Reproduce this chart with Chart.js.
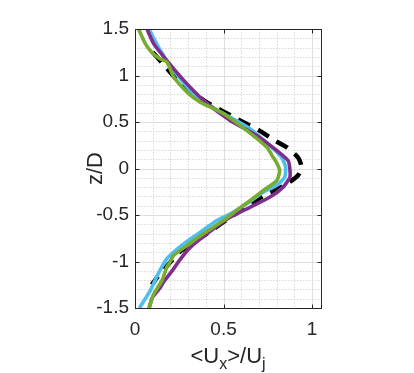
<!DOCTYPE html>
<html>
<head>
<meta charset="utf-8">
<script src="https://cdn.jsdelivr.net/npm/chart.js@4.4.1/dist/chart.umd.min.js"></script>
<style>
  html, body { margin: 0; padding: 0; background: #fff; }
  #wrap { width: 414px; height: 373px; position: relative; }
</style>
</head>
<body>
<div id="wrap"><canvas id="c" width="414" height="373"></canvas></div>
<script>
// ---- data ----
const xTicks = [0, 0.5, 1];
const yTicks = [-1.5, -1, -0.5, 0, 0.5, 1, 1.5];
const xLabelMain = ['<U', 'x', '>/U', 'j'];
const yLabel = 'z/D';

const greenX  = [0.02, 0.059, 0.094, 0.14, 0.18, 0.22, 0.30, 0.368, 0.50, 0.63, 0.743, 0.78, 0.80, 0.817, 0.80, 0.724, 0.649, 0.574, 0.499, 0.387, 0.293, 0.215, 0.20, 0.18, 0.153, 0.106, 0.078];
const greenY  = [1.5, 1.34, 1.25, 1.18, 1.145, 0.98, 0.81, 0.714, 0.589, 0.41, 0.23, 0.12, 0.06, -0.02, -0.13, -0.237, -0.345, -0.45, -0.56, -0.70, -0.83, -0.94, -1.0, -1.06, -1.2, -1.35, -1.5];

const purpleX = [0.068, 0.106, 0.18, 0.274, 0.387, 0.537, 0.687, 0.80, 0.864, 0.874, 0.874, 0.836, 0.76, 0.649, 0.537, 0.43, 0.312, 0.25, 0.21, 0.165, 0.143, 0.097, 0.08];
const purpleY = [1.5, 1.34, 1.16, 0.95, 0.733, 0.517, 0.356, 0.194, 0.086, 0.0, -0.094, -0.2, -0.31, -0.417, -0.525, -0.668, -0.848, -0.99, -1.1, -1.21, -1.28, -1.39, -1.5];

const cyanX   = [0.078, 0.143, 0.218, 0.312, 0.387, 0.5, 0.649, 0.76, 0.827, 0.85, 0.845, 0.80, 0.724, 0.63, 0.537, 0.462, 0.368, 0.274, 0.18, 0.13, 0.087, 0.068, 0.025];
const cyanY   = [1.5, 1.27, 1.056, 0.84, 0.714, 0.59, 0.428, 0.248, 0.122, 0.014, -0.094, -0.18, -0.255, -0.38, -0.49, -0.56, -0.686, -0.81, -0.97, -1.135, -1.31, -1.37, -1.5];

const dashX   = [0.10, 0.17, 0.24, 0.39, 0.58, 0.70, 0.79, 0.855, 0.92, 0.94, 0.92, 0.845, 0.72, 0.565, 0.39, 0.25, 0.18, 0.125, 0.095];
const dashY   = [1.25, 1.1, 0.95, 0.73, 0.53, 0.41, 0.3, 0.23, 0.12, 0.02, -0.075, -0.18, -0.3, -0.49, -0.72, -0.9, -1.05, -1.17, -1.25];

function pts(xs, ys) { return xs.map((x, i) => ({ x: x, y: ys[i] })); }

const FONT = '"Liberation Sans", Arial, Helvetica, sans-serif';
const TICK_SIZE = 19;
const LABEL_SIZE = 22;

const framePlugin = {
  id: 'frame',
  beforeDatasetsDraw(chart) {
    const { ctx, chartArea: a, scales: { x, y } } = chart;
    ctx.save();
    ctx.lineWidth = 1;
    // minor grid (dotted)
    ctx.strokeStyle = '#d9d9d9';
    ctx.setLineDash([1.5, 1.5]);
    for (let k = 1; k < 11; k++) {
      const v = k / 10;
      if (Math.abs(v * 2 - Math.round(v * 2)) < 1e-6) continue;
      const px = Math.round(x.getPixelForValue(v)) + 0.5;
      ctx.beginPath(); ctx.moveTo(px, a.top); ctx.lineTo(px, a.bottom); ctx.stroke();
    }
    for (let k = -15; k <= 15; k++) {
      const v = k / 10;
      if (k % 5 === 0) continue;
      const py = Math.round(y.getPixelForValue(v)) + 0.5;
      ctx.beginPath(); ctx.moveTo(a.left, py); ctx.lineTo(a.right, py); ctx.stroke();
    }
    // major grid (solid)
    ctx.setLineDash([]);
    ctx.strokeStyle = '#dedede';
    xTicks.forEach(v => {
      const px = Math.round(x.getPixelForValue(v)) + 0.5;
      ctx.beginPath(); ctx.moveTo(px, a.top); ctx.lineTo(px, a.bottom); ctx.stroke();
    });
    yTicks.forEach(v => {
      const py = Math.round(y.getPixelForValue(v)) + 0.5;
      ctx.beginPath(); ctx.moveTo(a.left, py); ctx.lineTo(a.right, py); ctx.stroke();
    });
    ctx.restore();
  },
  afterDatasetsDraw(chart) {
    const { ctx, chartArea: a, scales: { x, y } } = chart;
    ctx.save();
    ctx.strokeStyle = '#262626';
    ctx.lineWidth = 1;
    const L = Math.round(a.left) + 0.5, R = Math.round(a.right) + 0.5;
    const T = Math.round(a.top) + 0.5, B = Math.round(a.bottom) + 0.5;
    ctx.strokeRect(L, T, R - L, B - T);
    const tl = 4;
    xTicks.forEach(v => {
      const px = Math.round(x.getPixelForValue(v)) + 0.5;
      ctx.beginPath();
      ctx.moveTo(px, B); ctx.lineTo(px, B - tl);
      ctx.moveTo(px, T); ctx.lineTo(px, T + tl);
      ctx.stroke();
    });
    yTicks.forEach(v => {
      const py = Math.round(y.getPixelForValue(v)) + 0.5;
      ctx.beginPath();
      ctx.moveTo(L, py); ctx.lineTo(L + tl, py);
      ctx.moveTo(R, py); ctx.lineTo(R - tl, py);
      ctx.stroke();
    });
    ctx.restore();
  },
  afterDraw(chart) {
    const { ctx, chartArea: a } = chart;
    ctx.save();
    ctx.fillStyle = '#262626';
    // x label with subscripts
    const big = LABEL_SIZE + 'px ' + FONT;
    const small = Math.round(LABEL_SIZE * 0.72) + 'px ' + FONT;
    const parts = [
      { t: xLabelMain[0], f: big, dy: 0 },
      { t: xLabelMain[1], f: small, dy: 6 },
      { t: xLabelMain[2], f: big, dy: 0 },
      { t: xLabelMain[3], f: small, dy: 6 }
    ];
    let w = 0;
    parts.forEach(p => { ctx.font = p.f; p.w = ctx.measureText(p.t).width; w += p.w; });
    let cx = (a.left + a.right) / 2 - w / 2;
    const base = 363;
    ctx.textBaseline = 'alphabetic';
    ctx.textAlign = 'left';
    parts.forEach(p => { ctx.font = p.f; ctx.fillText(p.t, cx, base + p.dy); cx += p.w; });
    // y label rotated
    ctx.translate(102, (a.top + a.bottom) / 2);
    ctx.rotate(-Math.PI / 2);
    ctx.font = big;
    ctx.textAlign = 'center';
    ctx.textBaseline = 'alphabetic';
    ctx.fillText(yLabel, 0, 0);
    ctx.restore();
  }
};

const lineDs = (label, xs, ys, color, width, dash) => ({
  label: label,
  data: pts(xs, ys),
  showLine: true,
  borderColor: color,
  backgroundColor: color,
  borderWidth: width,
  borderDash: dash || [],
  pointRadius: 0,
  tension: 0.2,
  fill: false,
  borderCapStyle: 'butt',
  borderJoinStyle: 'round'
});

new Chart(document.getElementById('c'), {
  type: 'scatter',
  data: {
    datasets: [
      lineDs('green', greenX, greenY, '#77AC30', 3.6),
      lineDs('purple', purpleX, purpleY, '#7E2F8E', 3.6),
      lineDs('cyan', cyanX, cyanY, '#4DBEEE', 3.6),
      lineDs('dashed', dashX, dashY, '#000000', 4.5, [13, 9])
    ]
  },
  options: {
    responsive: false,
    animation: false,
    devicePixelRatio: 1,
    layout: { padding: { top: 29, right: 93, left: 0, bottom: 0 } },
    plugins: { legend: { display: false }, tooltip: { enabled: false } },
    scales: {
      x: {
        type: 'linear', min: 0, max: 1.05,
        afterBuildTicks: s => { s.ticks = xTicks.map(v => ({ value: v })); },
        afterFit: s => { s.height = 65; },
        grid: { display: false, drawTicks: false },
        border: { display: false },
        ticks: {
          font: { family: FONT, size: TICK_SIZE }, color: '#262626',
          padding: 10, maxRotation: 0,
          callback: v => String(v)
        }
      },
      y: {
        type: 'linear', min: -1.5, max: 1.5,
        afterBuildTicks: s => { s.ticks = yTicks.map(v => ({ value: v })); },
        afterFit: s => { s.width = 135; },
        grid: { display: false, drawTicks: false },
        border: { display: false },
        ticks: {
          font: { family: FONT, size: TICK_SIZE }, color: '#262626',
          padding: 6,
          callback: v => String(v)
        }
      }
    }
  },
  plugins: [framePlugin]
});
</script>
</body>
</html>
